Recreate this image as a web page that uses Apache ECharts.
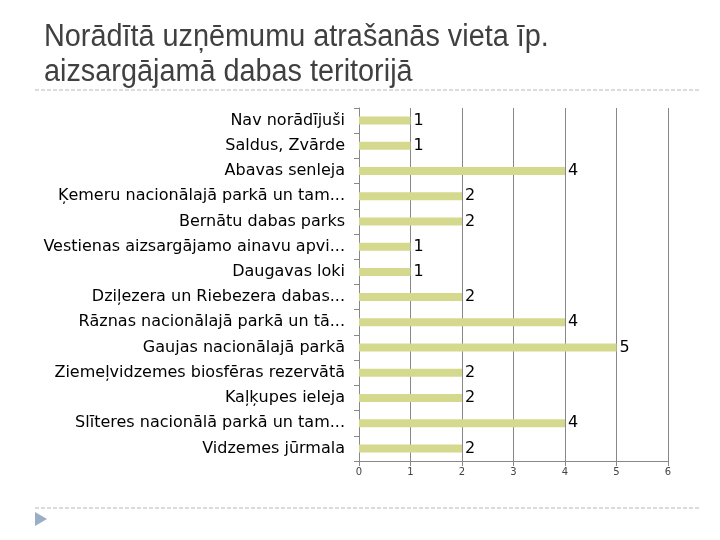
<!DOCTYPE html>
<html>
<head>
<meta charset="utf-8">
<script src="https://cdn.jsdelivr.net/npm/echarts@6/dist/echarts.min.js"></script>
<style>
  html, body { margin: 0; padding: 0; background: #fff; }
  #chart { width: 720px; height: 540px; }
</style>
</head>
<body>
<div id="chart"></div>
<script>
// kategorijas (no augšas uz leju)
const categories = [
  'Nav norādījuši',
  'Saldus, Zvārde',
  'Abavas senleja',
  'Ķemeru nacionālajā parkā un tam...',
  'Bernātu dabas parks',
  'Vestienas aizsargājamo ainavu apvi...',
  'Daugavas loki',
  'Dziļezera un Riebezera dabas...',
  'Rāznas nacionālajā parkā un tā...',
  'Gaujas nacionālajā parkā',
  'Ziemeļvidzemes biosfēras rezervātā',
  'Kaļķupes ieleja',
  'Slīteres nacionālā parkā un tam...',
  'Vidzemes jūrmala'
]
const counts = [1, 1, 4, 2, 2, 1, 1, 2, 4, 5, 2, 2, 4, 2]
const axisMax = 6
const titleText = 'Norādītā uzņēmumu atrašanās vieta īp.\naizsargājamā dabas teritorijā'

const chart = echarts.init(document.getElementById('chart'))

const option = {
  animation: false,
  grid: {
    left: 359,
    right: 52,
    top: 108,
    bottom: 79
  },
  xAxis: {
    type: 'value',
    min: 0,
    max: axisMax,
    interval: 1,
    axisLine: { show: true, lineStyle: { color: '#888', width: 1 } },
    axisTick: { show: true, length: 5, lineStyle: { color: '#888' } },
    axisLabel: { color: '#444', fontSize: 10, fontFamily: 'DejaVu Sans', margin: 6 },
    splitLine: { show: true, lineStyle: { color: '#888', width: 1 } }
  },
  yAxis: {
    type: 'category',
    data: categories,
    inverse: true,
    axisLine: { show: true, lineStyle: { color: '#888', width: 1 } },
    axisTick: { show: true, length: 5, lineStyle: { color: '#888' } },
    axisLabel: { color: '#000', fontSize: 16, fontFamily: 'DejaVu Sans', margin: 14 }
  },
  series: [
    {
      type: 'bar',
      data: counts,
      barWidth: 8,
      itemStyle: { color: '#d5d98d' },
      label: {
        show: true,
        position: 'right',
        distance: 3,
        color: '#000',
        fontSize: 16,
        fontFamily: 'DejaVu Sans'
      }
    }
  ],
  graphic: [
    {
      // virsraksts, nedaudz saspiests kā oriģinālā
      type: 'text',
      left: 44,
      top: 20,
      scaleX: 0.93,
      style: {
        text: titleText,
        font: '31px "Liberation Sans", Arial, sans-serif',
        fill: '#404040',
        lineHeight: 35
      }
    },
    {
      type: 'line',
      shape: { x1: 35, y1: 90, x2: 700, y2: 90 },
      style: { stroke: '#b8b8b8', lineWidth: 1, lineDash: [4, 2] }
    },
    {
      type: 'line',
      shape: { x1: 35, y1: 508, x2: 700, y2: 508 },
      style: { stroke: '#b8b8b8', lineWidth: 1, lineDash: [4, 2] }
    },
    {
      type: 'polygon',
      shape: { points: [[35, 512], [35, 526], [47, 519]] },
      style: { fill: '#9aaec6' }
    }
  ]
}

chart.setOption(option)
</script>
</body>
</html>
